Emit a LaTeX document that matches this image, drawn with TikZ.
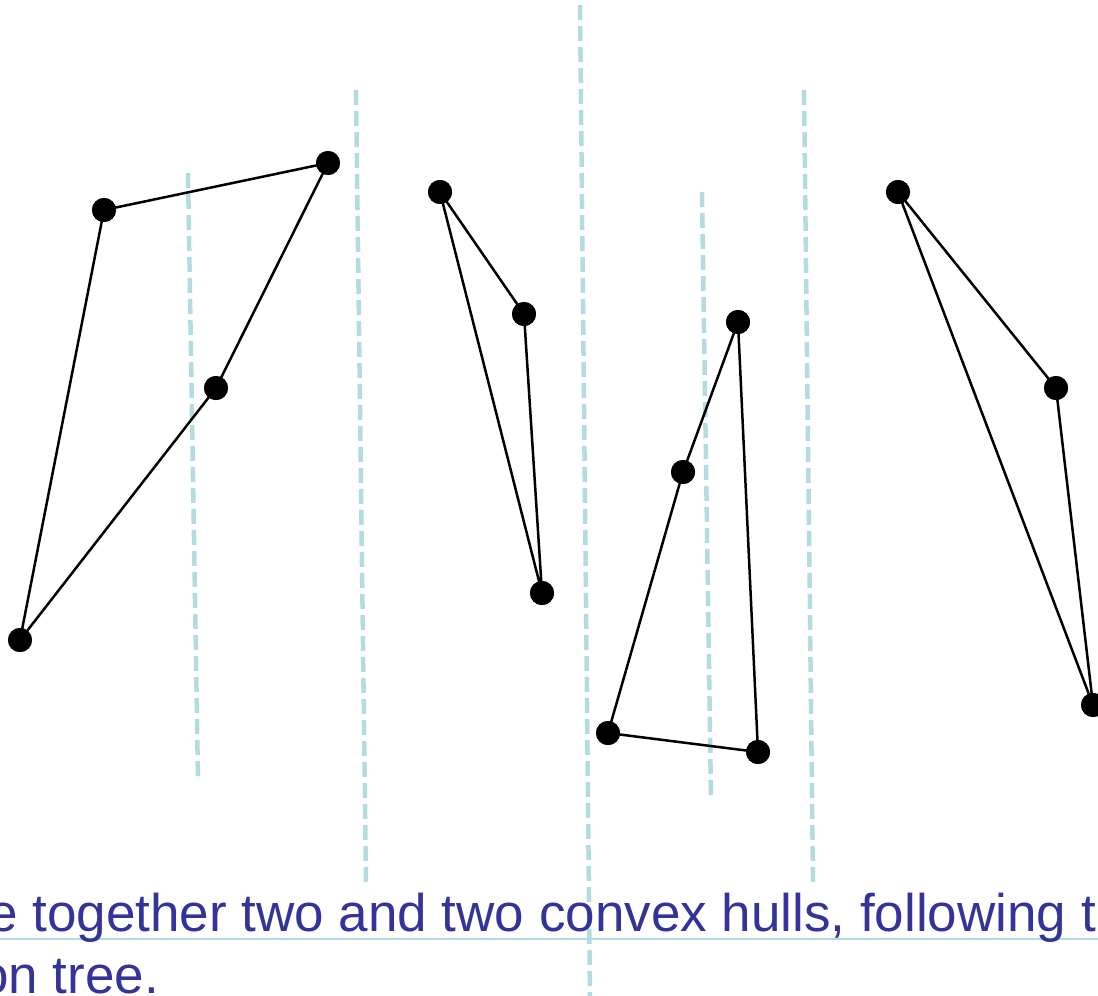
\documentclass[tikz,border=0pt]{standalone}
\usepackage{fontspec}
\setmainfont{Liberation Sans}
\definecolor{sepblue}{HTML}{B2DCE0}
\definecolor{txtblue}{HTML}{333399}
\begin{document}
\begin{tikzpicture}[x=1pt,y=-1pt,
  pt/.style={circle,fill=black,inner sep=0pt,minimum size=24pt},
  hull/.style={line width=2.5pt,black},
  sep/.style={sepblue,line width=4.5pt,dash pattern=on 15pt off 6pt},
  txt/.style={anchor=base west,inner sep=0pt,text=txtblue,font=\fontsize{53}{60}\selectfont}]
\useasboundingbox (0,0) rectangle (1098,996);
\clip (0,0) rectangle (1098,996);
% separators
\coordinate (s1a) at (188,173); \coordinate (s1b) at (198,780);
\coordinate (s2a) at (356,90);  \coordinate (s2b) at (366,882);
\coordinate (s3a) at (580,5);   \coordinate (s3b) at (590,1000);
\coordinate (s4a) at (702,192); \coordinate (s4b) at (711,800);
\coordinate (s5a) at (804,90);  \coordinate (s5b) at (813,882);
\draw[sep] (s1a) -- (s1b);
\draw[sep] (s2a) -- (s2b);
\draw[sep] (s3a) -- (s3b);
\draw[sep] (s4a) -- (s4b);
\draw[sep] (s5a) -- (s5b);
% horizontal rule
\coordinate (hl) at (0,939); \coordinate (hr) at (1098,939);
\draw[sepblue,line width=2pt] (hl) -- (hr);
% points
\node[pt] (A) at (104,210) {};
\node[pt] (B) at (328,163) {};
\node[pt] (C) at (216,388) {};
\node[pt] (D) at (20,640) {};
\node[pt] (E) at (440,192) {};
\node[pt] (F) at (524,314) {};
\node[pt] (G) at (542,593) {};
\node[pt] (H) at (738,322) {};
\node[pt] (I) at (683,472) {};
\node[pt] (J) at (608,733) {};
\node[pt] (K) at (758,752) {};
\node[pt] (L) at (898,192) {};
\node[pt] (M) at (1056,388) {};
\node[pt] (N) at (1093,705) {};
% hulls
\draw[hull] (A.center) -- (B.center) -- (C.center) -- (D.center) -- cycle;
\draw[hull] (E.center) -- (F.center) -- (G.center) -- cycle;
\draw[hull] (H.center) -- (I.center) -- (J.center) -- (K.center) -- cycle;
\draw[hull] (L.center) -- (M.center) -- (N.center) -- cycle;
\foreach \p in {A,B,C,D,E,F,G,H,I,J,K,L,M,N} \fill (\p) circle (12pt);
% text
\node[txt] (t1) at (-12,931) {e together two and two convex hulls, following t};
\node[txt] (t2) at (-21,993) {on tree.};
\end{tikzpicture}
\end{document}
